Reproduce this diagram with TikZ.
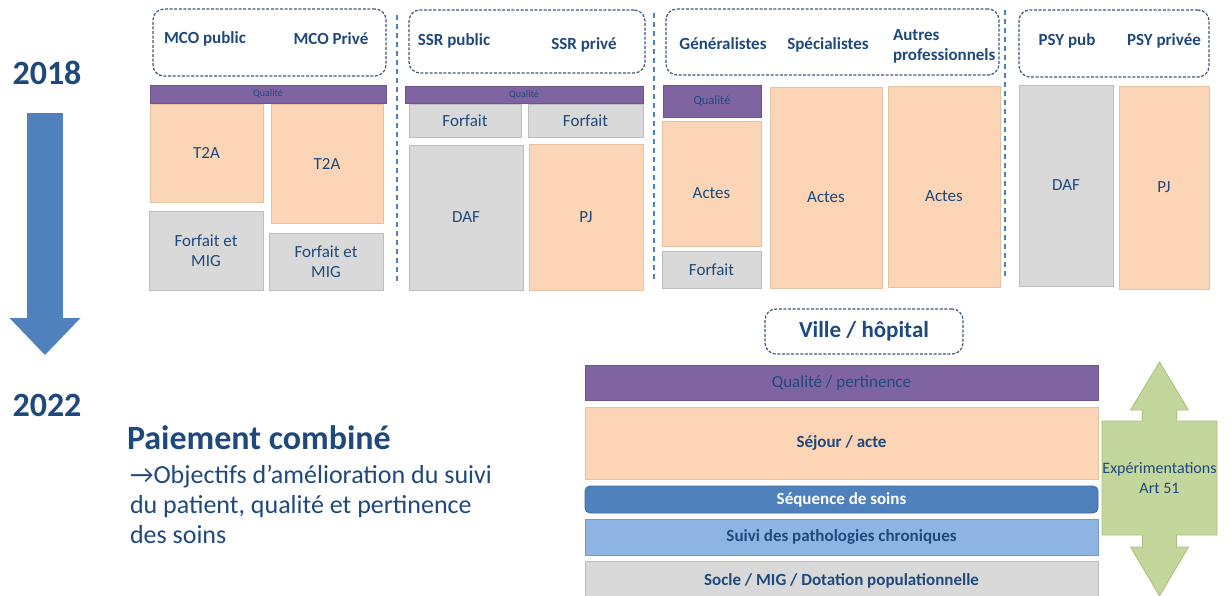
\documentclass[tikz,border=0pt]{standalone}
\usepackage{fontspec}
\setmainfont{Carlito}
\usetikzlibrary{arrows.meta,positioning,backgrounds}

\definecolor{navy}{HTML}{1F497D}
\definecolor{peach}{HTML}{FBD5B5}
\definecolor{peachline}{HTML}{E6C2A4}
\definecolor{greyfill}{HTML}{D9D9D9}
\definecolor{greyline}{HTML}{BDBDBD}
\definecolor{qualviolet}{HTML}{8064A2}
\definecolor{seqblue}{HTML}{4F81BD}
\definecolor{suiviblue}{HTML}{8EB4E3}
\definecolor{expgreen}{HTML}{C3D69B}
\definecolor{expline}{HTML}{A8C17A}
\definecolor{frameblue}{HTML}{3F5878}

\begin{document}
\begin{tikzpicture}[x=1pt, y=-1pt, node distance=7pt,
  every node/.style={text=navy, inner sep=0pt, outer sep=0pt, align=center},
  cell/.style={rectangle, line width=0.8pt, font=\fontsize{17}{20}\selectfont},
  acte/.style={cell, draw=peachline, fill=peach},
  forfait/.style={cell, draw=greyline, fill=greyfill},
  qualite/.style={cell, draw=qualviolet!85!black, fill=qualviolet, font=\fontsize{10}{12}\selectfont},
  groupe/.style={draw=frameblue, line width=1.2pt, dash pattern=on 3pt off 1.6pt, rounded corners=11pt},
  entete/.style={font=\bfseries\fontsize{17}{20}\selectfont},
  annee/.style={font=\bfseries\fontsize{34}{40}\selectfont},
  couche/.style={rectangle, minimum width=513pt, line width=0.8pt, font=\bfseries\fontsize{17}{20}\selectfont},
  sepline/.style={draw=seqblue, line width=1.3pt, dash pattern=on 5pt off 4pt},
]
\useasboundingbox (0,0) rectangle (1231,596);

% 2018 -> 2022
\node[annee] (an2018) at (47,73) {2018};
\node[annee] (an2022) at (47,405) {2022};
\coordinate (flecheHaut) at (45,113);
\coordinate (flecheBas) at (45,355);
\draw[draw=seqblue, line width=36pt, -{Triangle[width=71pt, length=37pt, line width=0pt]}] (flecheHaut) -- (flecheBas);

% en-tetes
\node[groupe, minimum width=233pt, minimum height=67pt] (grpMco) at (269.5,42.5) {};
\node[groupe, minimum width=236pt, minimum height=63pt] (grpSsr) at (527,41.5) {};
\node[groupe, minimum width=333pt, minimum height=66pt] (grpVille) at (832.5,42) {};
\node[groupe, minimum width=190pt, minimum height=67pt] (grpPsy) at (1114,43.5) {};
\node[entete] (mcoPub) at (205,39) {MCO public};
\node[entete] (mcoPriv) at (331,39) {MCO Privé};
\node[entete] (ssrPub) at (454,41) {SSR public};
\node[entete] (ssrPriv) at (584,45) {SSR privé};
\node[entete] (gen) at (723,44) {Généralistes};
\node[entete] (spe) at (828,45) {Spécialistes};
\node[entete, anchor=west, align=left] (autres) at (893,46) {Autres\\professionnels};
\node[entete] (psyPub) at (1067,41) {PSY pub};
\node[entete] (psyPriv) at (1164,41) {PSY privée};

% MCO
\node[qualite, minimum width=236pt, minimum height=18pt] (qualMco) at (268,94) {Qualité};
\node[acte, minimum width=113pt, minimum height=98pt] (t2aPub) at (206.5,153) {T2A};
\node[acte, minimum width=112pt, minimum height=119pt] (t2aPriv) at (327,163.5) {T2A};
\node[forfait, minimum width=114pt, minimum height=79pt] (migPub) at (206,250.5) {Forfait et\\MIG};
\node[forfait, minimum width=114pt, minimum height=57pt] (migPriv) at (326,261.5) {Forfait et\\MIG};

% SSR
\node[qualite, minimum width=238pt, minimum height=17pt] (qualSsr) at (524,94.5) {Qualité};
\node[forfait, minimum width=112pt, minimum height=33pt] (forfSsrPub) at (465,120.5) {Forfait};
\node[forfait, minimum width=115pt, minimum height=33pt] (forfSsrPriv) at (585.5,120.5) {Forfait};
\node[forfait, minimum width=114pt, minimum height=145pt] (dafSsr) at (466,217.5) {DAF};
\node[acte, minimum width=114pt, minimum height=146pt] (pjSsr) at (586,217) {PJ};

% ville
\node[qualite, minimum width=98pt, minimum height=32pt, font=\fontsize{12.5}{14}\selectfont] (qualVille) at (712,101) {Qualité};
\node[acte, minimum width=99pt, minimum height=125pt, text height=30pt, text depth=0pt] (actesGen) at (711.5,183.5) {Actes};
\node[forfait, minimum width=99pt, minimum height=37pt] (forfGen) at (711.5,269.5) {Forfait};
\node[acte, minimum width=112pt, minimum height=201pt, text height=31pt, text depth=0pt] (actesSpe) at (826,187.5) {Actes};
\node[acte, minimum width=112pt, minimum height=201pt, text height=31pt, text depth=0pt] (actesAut) at (944,186.5) {Actes};

% PSY
\node[forfait, minimum width=94pt, minimum height=201pt] (dafPsy) at (1066,185.5) {DAF};
\node[acte, minimum width=90pt, minimum height=203pt] (pjPsy) at (1164,187.5) {PJ};

\draw[sepline] (397,15) -- (397,285);
\draw[sepline] (654,13) -- (654,283);
\draw[sepline] (1005,10) -- (1005,278);

% paiement combine
\node[groupe, minimum width=198pt, minimum height=45pt, font=\bfseries\fontsize{23}{28}\selectfont] (villeHop) at (864,331.5) {Ville / hôpital};
\node[couche, draw=qualviolet!85!black, fill=qualviolet, minimum height=35pt, font=\fontsize{17}{20}\selectfont] (qualPert) at (841.5,382.5) {Qualité / pertinence};
\node[couche, draw=peachline, fill=peach, minimum height=72pt, below=7pt of qualPert] (sejour) {Séjour / acte};
\node[couche, draw=seqblue!80!black, fill=seqblue, rounded corners=5pt, minimum height=27pt, text=white, below=7pt of sejour] (sequence) {Séquence de soins};
\node[couche, draw=suiviblue!85!black, fill=suiviblue, minimum height=36pt, below=6pt of sequence] (suivi) {Suivi des pathologies chroniques};
\node[couche, draw=greyline, fill=greyfill, minimum height=40pt, below=6pt of suivi] (socle) {Socle / MIG / Dotation populationnelle};

\node[font=\fontsize{16}{20}\selectfont, minimum width=115pt, minimum height=114pt] (exper) at (1159.5,478) {Expérimentations\\Art 51};
\begin{scope}[on background layer]
  \draw[fill=expgreen, draw=expline, line width=0.8pt]
    (exper.north west) -- ([xshift=-17pt]exper.north) -- ++(0,-11) -- ++(-12,0)
    -- ([yshift=59pt]exper.north) -- ++(29,48) -- ++(-12,0) -- ++(0,11)
    -- (exper.north east) -- (exper.south east)
    -- ([xshift=17pt]exper.south) -- ++(0,12) -- ++(12,0)
    -- ([yshift=-61pt]exper.south) -- ++(-29,-49) -- ++(12,0) -- ++(0,-12)
    -- (exper.south west) -- cycle;
\end{scope}

\node[anchor=west, font=\bfseries\fontsize{34}{40}\selectfont] (paiement) at (127,438) {Paiement combiné};
\node[anchor=north west, align=left, font=\fontsize{26}{30}\selectfont] (objectifs) at (130,465)
  {→Objectifs d’amélioration du suivi\\du patient, qualité et pertinence\\des soins};
\end{tikzpicture}
\end{document}
